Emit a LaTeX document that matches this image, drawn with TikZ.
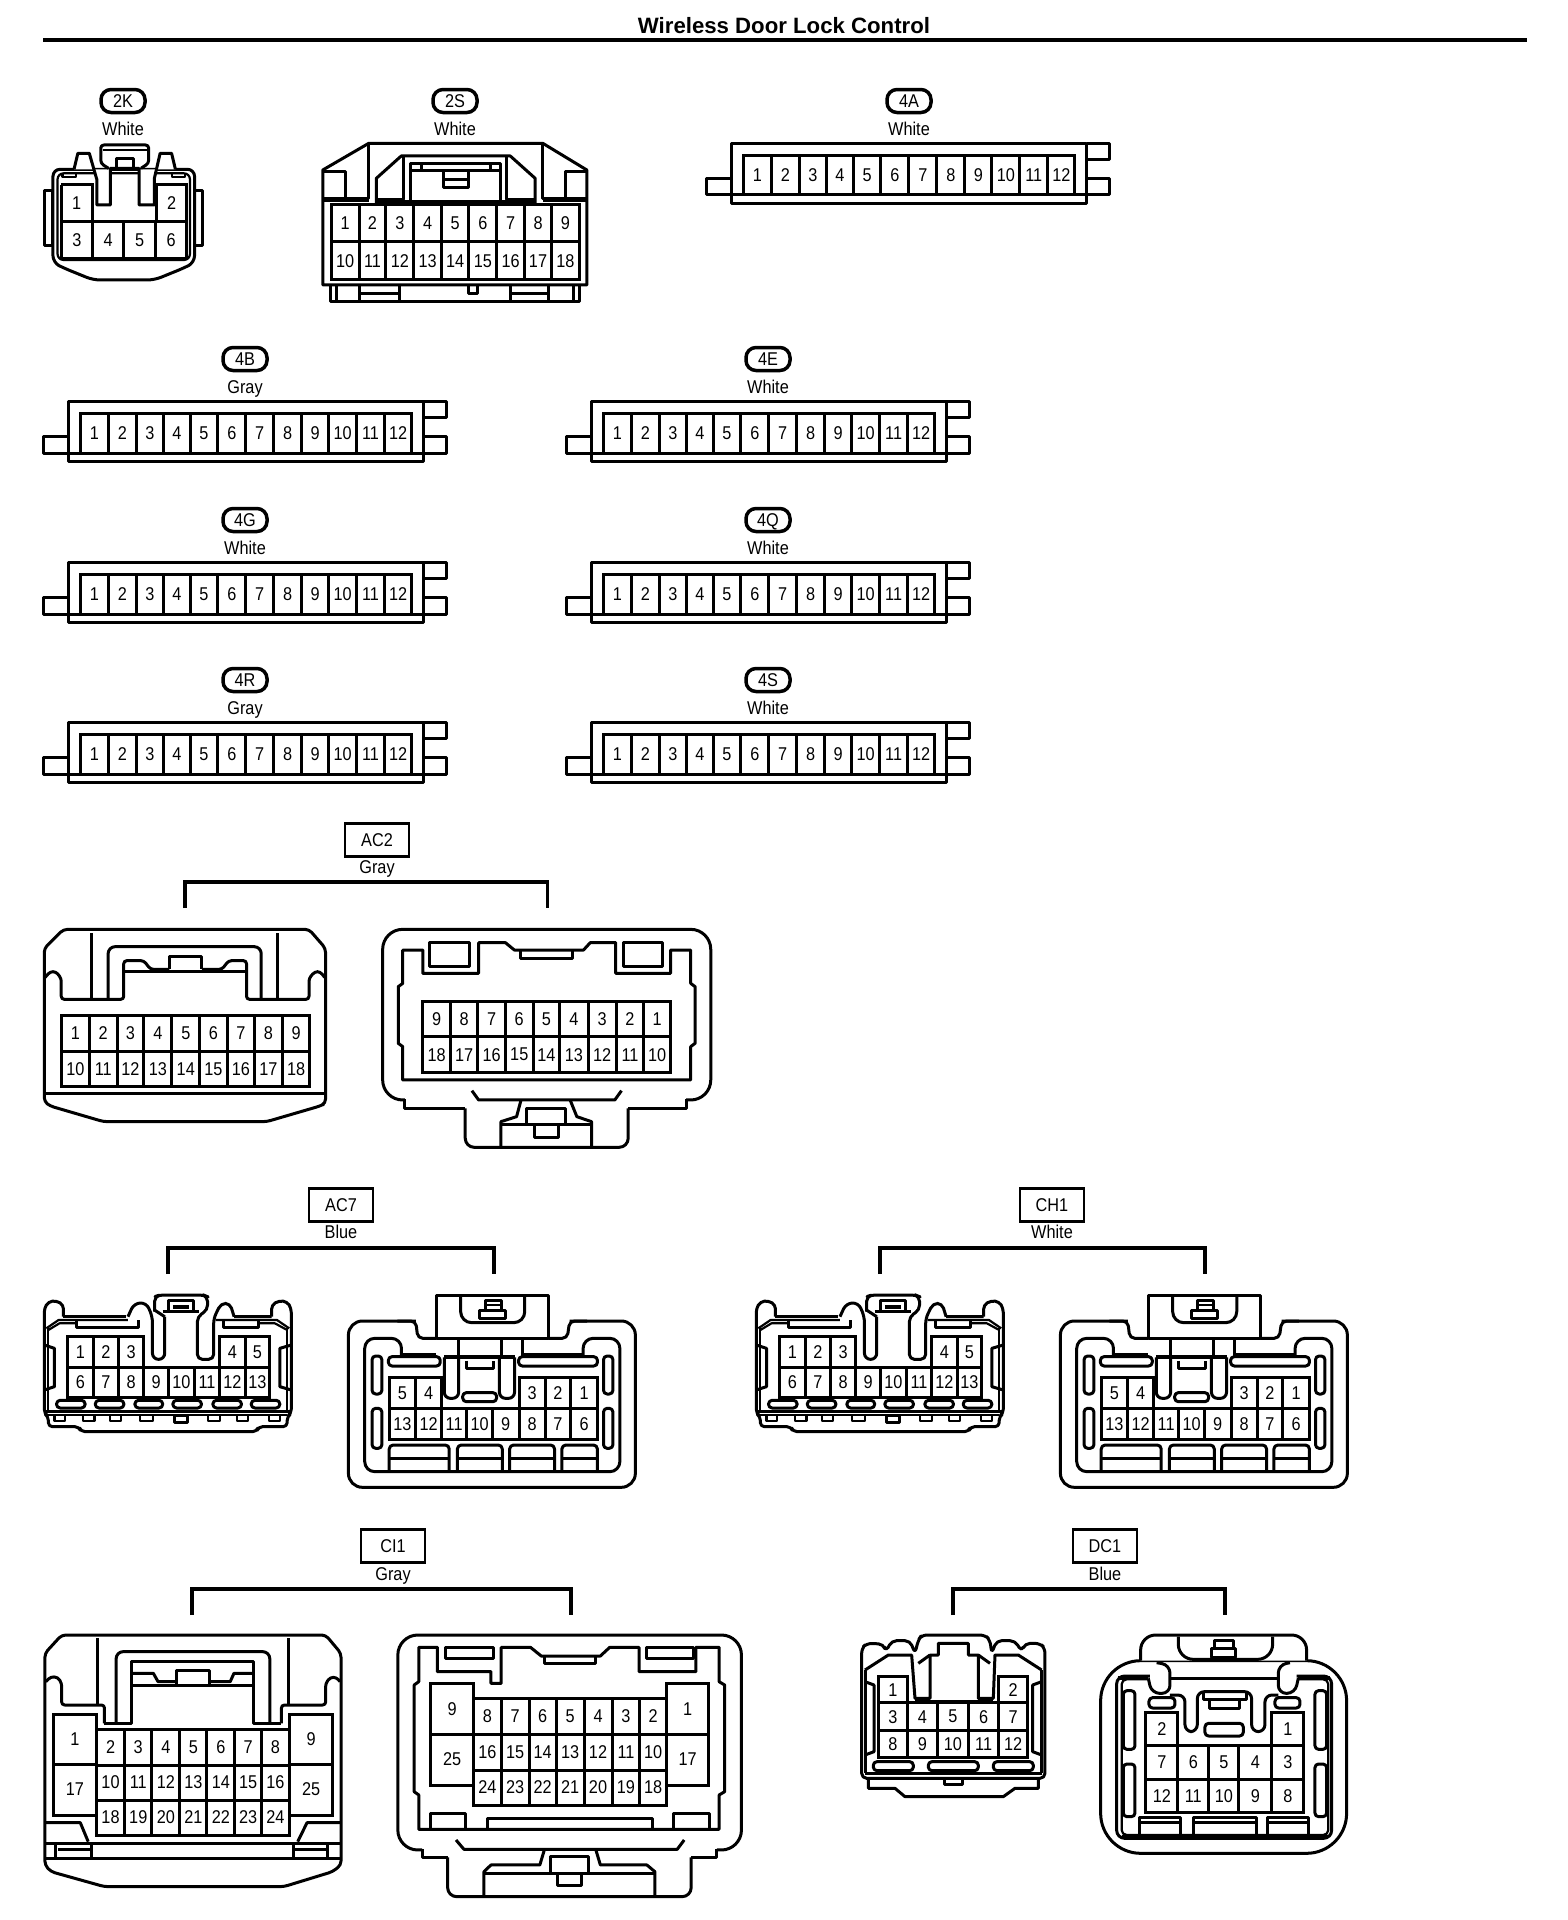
\documentclass[tikz,border=0pt]{standalone}
\usepackage{fontspec}
\setmainfont{Liberation Sans}
\newfontfamily\pinf[FakeStretch=0.88]{Liberation Sans}
\tikzset{
 ln/.style={line width=3pt,line join=round,draw=black},
 tn/.style={line width=2.2pt,line join=round,draw=black},
 pinbox/.style={line width=3pt,draw=black},
 pinlab/.style={font=\pinf\fontsize{18.5}{18.5}\selectfont,inner sep=0pt,text=black},
 colour/.style={font=\pinf\fontsize{18.5}{18.5}\selectfont,inner sep=0pt,text=black,text height=13pt,text depth=0pt},
 tagr/.style={draw=black,line width=3.5pt,rounded corners=10pt,minimum width=44pt,minimum height=23pt,inner sep=0pt,text height=13pt,text depth=0pt,font=\pinf\fontsize{18.5}{18.5}\selectfont},
 tagb/.style={draw=black,line width=2.4pt,minimum width=64pt,minimum height=33pt,inner sep=0pt,text height=13pt,text depth=0pt,font=\pinf\fontsize{18.5}{18.5}\selectfont},
 brk/.style={line width=3.4pt,draw=black},
 za/.style={x=0.3827pt,y=-0.3333pt},
 zb/.style={x=0.4464pt,y=-0.3333pt},
 zc/.style={x=0.4082pt,y=-0.3333pt},
 zd/.style={x=0.4656pt,y=-0.3333pt},
 ze/.style={x=0.3333pt,y=-0.3333pt},
}
\newcommand{\prow}[4]{\def\xs{{#3}}\foreach \l [count=\i from 0] in {#4}{%
 \pgfmathsetmacro\xa{\xs[\i]}\pgfmathsetmacro\xb{\xs[\i+1]}%
 \draw[pinbox] (\xa,#1) rectangle (\xb,#2);
 \node[pinlab] (p\l) at ({(\xa+\xb)/2},{(#1+#2)/2}) {\l};}}
\newcommand{\pill}[4]{\draw[ln,rounded corners=3.6pt] (#1,#2) rectangle (#3,#4);}
\newcommand{\strip}[2]{\begin{scope}[shift={(#1,#2)},ze]
 \draw[ln] (125,70) rectangle (1190,250);
 \draw[ln] (125,225) -- (1190,225);
 \draw[ln] (125,175) -- (50,175) -- (50,225) -- (125,225);
 \draw[ln] (1190,70) -- (1260,70) -- (1260,118) -- (1190,118);
 \draw[ln] (1190,175) -- (1260,175) -- (1260,225) -- (1190,225);
 \prow{105}{225}{160,245,328,410,490,573,657,740,825,905,990,1073,1155}{1,2,3,4,5,6,7,8,9,10,11,12}
 \end{scope}}
\newcommand{\acseven}[2]{\begin{scope}[shift={(#1,#2)},zc]
 % left half
 \draw[ln,rounded corners=4pt] (82,140)--(82,105)--(65,92)--(45,95)--(35,115)--(35,430)--(45,440)--(45,470)--(120,470)--(125,485)--(555,485)--(560,470)--(630,470)--(630,440)--(640,430)--(640,115)--(630,95)--(610,92)--(592,105)--(592,140);
 \draw[ln] (82,140)--(235,140);
 \draw[ln,rounded corners=6pt] (240,140)--(255,100)--(285,98)--(300,140)--(300,268)--(330,268)--(330,140);
 \draw[ln,rounded corners=5pt] (305,125)--(305,80)--(318,75)--(425,75)--(435,80)--(435,120)--(410,140)--(410,268)--(450,268)--(450,145)--(468,100)--(490,100)--(500,140);
 \draw[ln] (305,120)--(330,140) (500,140)--(592,140);
 \draw[ln] (325,125)--(415,125) (340,125)--(340,92)--(400,92)--(400,125);
 \draw[line width=4pt] (350,112)--(390,112);
 \draw[tn] (40,175)--(70,150)--(240,150) (635,175)--(605,150)--(455,150);
 \draw[tn] (45,180)--(72,160)--(115,160) (630,180)--(600,160)--(560,160);
 \draw[ln] (115,150)--(115,172)--(265,172)--(265,150) (475,150)--(475,172)--(560,172)--(560,150);
 \draw[ln] (35,225)--(60,235)--(60,350)--(35,360) (640,225)--(612,235)--(612,350)--(640,360);
 \draw[tn] (45,175)--(45,425) (630,175)--(630,425);
 \draw[ln] (35,425)--(640,425);
 \draw[tn] (45,434)--(630,434);
 \prow{200}{292}{92,155,217,278}{1,2,3}
 \prow{200}{292}{465,527,587}{4,5}
 \prow{292}{382}{92,155,217,278,340,402,465,527,587}{6,7,8,9,10,11,12,13}
 \pill{65}{391}{135}{414}\pill{160}{391}{230}{414}\pill{257}{391}{325}{414}\pill{350}{391}{420}{414}\pill{448}{391}{518}{414}\pill{542}{391}{612}{414}
 \foreach \a/\b in {60/85,130/158,195/222,270/302,437/465,507/535,585/612}{\draw[tn] (\a,436)--(\a,452)--(\b,452)--(\b,436);}
 \draw[ln] (355,436) rectangle (385,458);
 % right half
 \draw[ln,rounded corners=14pt] (945,153)--(780,153)--(780,652)--(1483,652)--(1483,153)--(1322,153);
 \draw[ln,rounded corners=5pt] (995,205)--(950,205)--(945,153)--(900,153);
 \draw[ln,rounded corners=5pt] (1270,205)--(1316,205)--(1322,153)--(1365,153);
 \draw[ln] (995,205)--(995,75)--(1270,75)--(1270,205)--cycle;
 \draw[ln,rounded corners=10pt] (910,255)--(910,205)--(820,205)--(820,605)--(1445,605)--(1445,205)--(1355,205)--(1355,255);
 \draw[ln] (910,252)--(995,252) (1205,252)--(1355,252);
 \draw[ln,rounded corners=11pt] (1055,75)--(1055,158)--(1212,158)--(1212,75);
 \draw[ln] (1100,122) rectangle (1165,145);
 \draw[ln] (1115,122)--(1115,90)--(1155,90)--(1155,122);
 \draw[tn] (1115,106)--(1155,106);
 \draw[ln] (1050,205)--(1050,262) (1155,205)--(1155,262) (1207,205)--(1207,262);
 \draw[ln,rounded corners=6pt] (1015,262)--(1015,385)--(1050,385)--(1050,262);
 \draw[ln,rounded corners=6pt] (1150,262)--(1150,385)--(1187,385)--(1187,262);
 \draw[line width=4pt] (1015,262)--(1187,262);
 \draw[ln] (1070,272)--(1070,295)--(1135,295)--(1135,272);
 \pill{878}{260}{1005}{288}\pill{1197}{260}{1390}{288}\pill{1060}{368}{1143}{395}
 \pill{838}{258}{862}{372}\pill{838}{415}{862}{535}\pill{1405}{258}{1428}{372}\pill{1405}{415}{1428}{535}
 \prow{322}{415}{880,945,1008}{5,4}
 \prow{322}{415}{1198,1262,1325,1390}{3,2,1}
 \prow{415}{508}{880,945,1008,1070,1133,1198,1262,1325,1390}{13,12,11,10,9,8,7,6}
 \foreach \a/\b in {880/1027,1047/1157,1175/1285,1303/1390}{
  \draw[ln,rounded corners=4pt] (\a,603)--(\a,525)--(\b,525)--(\b,603);
  \draw[ln] (\a,565)--(\b,565);}
 \end{scope}}
\begin{document}
\begin{tikzpicture}[x=1pt,y=-1pt]
\useasboundingbox (0,0) rectangle (1568,1920);
\fill[white] (0,0) rectangle (1568,1920);
\node[font=\bfseries\fontsize{22.2}{22.2}\selectfont,inner sep=0pt] (title) at (784,26) {Wireless Door Lock Control};
\draw[line width=4.5pt] (43,40) -- (1527,40);
% callouts
\node[tagr] (t2k) at (123,101) {2K}; \node[colour] (c2k) at (123,129) {White};
\node[tagr] (t2s) at (455,101) {2S}; \node[colour] (c2s) at (455,129) {White};
\node[tagr] (t4a) at (909,101) {4A}; \node[colour] (c4a) at (909,129) {White};
\node[tagr] (t4b) at (245,359) {4B}; \node[colour] (c4b) at (245,387) {Gray};
\node[tagr] (t4e) at (768,359) {4E}; \node[colour] (c4e) at (768,387) {White};
\node[tagr] (t4g) at (245,520) {4G}; \node[colour] (c4g) at (245,548) {White};
\node[tagr] (t4q) at (768,520) {4Q}; \node[colour] (c4q) at (768,548) {White};
\node[tagr] (t4r) at (245,680) {4R}; \node[colour] (c4r) at (245,708) {Gray};
\node[tagr] (t4s) at (768,680) {4S}; \node[colour] (c4s) at (768,708) {White};
\node[tagb] (tac2) at (377,840) {AC2}; \node[colour] (cac2) at (377,867) {Gray};
\node[tagb] (tac7) at (341,1205) {AC7}; \node[colour] (cac7) at (341,1232) {Blue};
\node[tagb] (tch1) at (1052,1205) {CH1}; \node[colour] (cch1) at (1052,1232) {White};
\node[tagb] (tci1) at (393,1546) {CI1}; \node[colour] (cci1) at (393,1574) {Gray};
\node[tagb] (tdc1) at (1105,1546) {DC1}; \node[colour] (cdc1) at (1105,1574) {Blue};
% brackets
\draw[brk] (185,908) -- (185,882) -- (547.5,882) -- (547.5,908);
\draw[brk] (168,1274) -- (168,1248) -- (494,1248) -- (494,1274);
\draw[brk] (880,1274) -- (880,1248) -- (1205,1248) -- (1205,1274);
\draw[brk] (192,1615) -- (192,1589) -- (571,1589) -- (571,1615);
\draw[brk] (953,1615) -- (953,1589) -- (1225,1589) -- (1225,1615);
% strips
\strip{690}{120}
\strip{26.8}{378.5}\strip{549.8}{378.5}
\strip{26.8}{539}\strip{549.8}{539}
\strip{26.8}{699.5}\strip{549.8}{699.5}
% 2K and 2S
\begin{scope}[shift={(30,70)},za]
 \draw[ln] (38,362) rectangle (60,528);
 \draw[ln] (430,362) rectangle (452,528);
 \draw[ln,rounded corners=7pt,fill=white] (60,298)--(430,298)--(430,578)--(400,595)--(325,630)--(165,630)--(90,595)--(60,578)--cycle;
 \draw[tn,rounded corners=6pt] (72,310)--(418,310)--(418,570)--(72,570)--cycle;
 \draw[ln,fill=white] (115,298)--(125,250)--(155,250)--(175,330)--(175,405)--(210,405)--(210,295)--(285,295)--(285,405)--(325,405)--(325,325)--(340,250)--(370,250)--(380,298);
 \draw[ln,rounded corners=3pt] (205,295)--(185,280)--(185,225)--(310,225)--(310,280)--(290,295);
 \draw[tn] (190,240)--(305,240);
 \draw[ln] (225,295)--(225,265)--(270,265)--(270,295);
 \draw[tn] (85,310)--(85,322)--(120,322)--(120,310) (370,310)--(370,322)--(405,322)--(405,310);
 \draw[pinbox] (82,345)--(163,345)--(163,455);
 \draw[pinbox] (82,345)--(82,455);
 \draw[pinbox] (330,455)--(330,345)--(410,345)--(410,455);
 \node[pinlab] (p1a) at (122,398) {1}; \node[pinlab] (p2a) at (370,398) {2};
 \prow{455}{565}{82,163,245,328,410}{3,4,5,6}
 % 2S
 \draw[ln] (765,300)--(885,220)--(1340,220)--(1455,300)--(1455,645)--(765,645)--cycle;
 \draw[ln] (785,645)--(785,695)--(1435,695)--(1435,645);
 \draw[ln] (800,645)--(800,695) (1420,645)--(1420,695);
 \draw[ln] (860,648)--(860,692) (965,648)--(965,692) (860,670)--(965,670);
 \draw[ln] (1255,648)--(1255,692) (1355,648)--(1355,692) (1255,670)--(1355,670);
 \draw[ln] (1145,645)--(1145,670)--(1170,670)--(1170,645);
 \draw[ln] (765,305)--(825,305)--(825,385)--(765,385);
 \draw[ln] (1455,305)--(1400,305)--(1400,385)--(1455,385);
 \draw[ln] (885,225)--(885,385)--(825,385) (1340,225)--(1340,385)--(1400,385);
 \draw[ln] (905,400)--(905,325)--(970,258)--(1255,258)--(1320,325)--(1320,400);
 \draw[ln] (975,258)--(975,388)--(905,388) (1245,258)--(1245,388)--(1320,388);
 \draw[ln] (995,395)--(995,280)--(1230,280)--(1230,395);
 \draw[ln] (995,303)--(1230,303) (1022,280)--(1022,303) (1203,280)--(1203,303);
 \draw[ln] (1080,305)--(1080,352)--(1145,352)--(1145,305) (1080,330)--(1145,330);
 \draw[ln] (768,392)--(885,392) (905,395)--(1320,395) (1340,392)--(1452,392);
 \prow{403}{515}{787,860,930,1003,1075,1147,1220,1292,1363,1435}{1,2,3,4,5,6,7,8,9}
 \prow{515}{630}{787,860,930,1003,1075,1147,1220,1292,1363,1435}{10,11,12,13,14,15,16,17,18}
\end{scope}
% AC2
\begin{scope}[shift={(30,900)},zb]
 \draw[ln,rounded corners=4pt] (32,145)--(75,88)--(625,88)--(662,145)--(662,610)--(650,618)--(530,665)--(165,665)--(45,618)--(32,605)--cycle;
 \draw[ln] (32,580)--(662,580);
 \draw[ln] (138,100)--(138,298) (555,100)--(555,298);
 \draw[ln,rounded corners=3pt] (34,232)--(45,215)--(58,215)--(70,235)--(70,298)--(210,298)--(210,182)--(255,182)--(270,208)--(312,208);
 \draw[ln,rounded corners=3pt] (385,208)--(430,208)--(445,182)--(485,182)--(485,298)--(625,298)--(625,235)--(638,215)--(650,215)--(660,232);
 \draw[ln,rounded corners=7pt] (175,298)--(175,140)--(518,140)--(518,298);
 \draw[ln] (312,208)--(312,170)--(385,170)--(385,208);
 \draw[ln] (212,215)--(483,215);
 \prow{345}{455}{70,133,195,255,318,380,442,503,565,627}{1,2,3,4,5,6,7,8,9}
 \prow{455}{560}{70,133,195,255,318,380,442,503,565,627}{10,11,12,13,14,15,16,17,18}
 \draw[ln,rounded corners=20pt] (840,600)--(790,600)--(790,88)--(1525,88)--(1525,600)--(1470,600);
 \draw[ln] (840,598)--(840,625)--(975,625) (1470,598)--(1470,625)--(1340,625);
 \draw[ln,rounded corners=9pt] (975,625)--(975,742)--(1340,742)--(1340,625);
 \draw[ln] (835,150)--(880,150)--(880,220)--(1005,220)--(1005,128)--(1065,128)--(1085,150)--(1240,150)--(1255,128)--(1312,128)--(1312,220)--(1435,220)--(1435,150)--(1480,150)--(1480,250)--(1490,260)--(1490,430)--(1480,440)--(1480,540)--(835,540)--(835,440)--(825,430)--(825,260)--(835,250)--cycle;
 \draw[ln] (895,128) rectangle (985,200) (1330,128) rectangle (1418,200);
 \draw[ln] (1098,150)--(1098,175)--(1215,175)--(1215,150);
 \prow{305}{410}{880,942,1003,1065,1127,1187,1250,1313,1375,1435}{9,8,7,6,5,4,3,2,1}
 \prow{410}{518}{880,942,1003,1065,1127,1187,1250,1313,1375,1435}{18,17,16,15,14,13,12,11,10}
 \draw[ln] (990,572)--(1005,600)--(1310,600)--(1325,572);
 \draw[ln] (1100,600)--(1090,650)--(1055,665)--(1055,742) (1210,600)--(1225,650)--(1258,665)--(1258,742);
 \draw[ln] (1055,675)--(1258,675) (1113,675)--(1113,625)--(1200,625)--(1200,675);
 \draw[ln] (1130,675)--(1130,712)--(1185,712)--(1185,675);
\end{scope}
\acseven{30}{1270}
\acseven{742}{1270}
% CI1
\begin{scope}[shift={(30,1620)},zd]
 \draw[ln,rounded corners=4pt] (32,100)--(68,45)--(635,45)--(668,100)--(668,735)--(650,755)--(545,800)--(160,800)--(45,755)--(32,735)--cycle;
 \draw[ln] (145,55)--(145,255) (555,55)--(555,255);
 \draw[ln,rounded corners=3pt] (34,185)--(45,170)--(60,172)--(68,190)--(68,255)--(160,255)--(160,310);
 \draw[ln,rounded corners=3pt] (540,310)--(540,255)--(635,255)--(635,190)--(645,172)--(658,172)--(666,185);
 \draw[ln,rounded corners=7pt] (185,310)--(185,95)--(515,95)--(515,310);
 \draw[ln] (160,310)--(218,310)--(218,125)--(480,125)--(480,310)--(540,310);
 \draw[ln] (218,160)--(265,160)--(275,185)--(315,185) (385,185)--(430,185)--(438,160)--(480,160);
 \draw[ln] (315,195)--(315,150)--(385,150)--(385,195) (218,195)--(480,195);
 \prow{282}{432}{50,143}{1}\prow{432}{585}{50,143}{17}
 \prow{282}{432}{558,650}{9}\prow{432}{585}{558,650}{25}
 \prow{328}{435}{143,203,262,322,380,440,497,557}{2,3,4,5,6,7,8}
 \prow{435}{540}{143,203,262,322,380,440,497,557}{10,11,12,13,14,15,16}
 \prow{540}{645}{143,203,262,322,380,440,497,557}{18,19,20,21,22,23,24}
 \draw[ln] (32,608)--(108,608)--(125,665) (668,608)--(595,608)--(575,665);
 \draw[ln] (32,670)--(668,670) (32,715)--(668,715);
 \draw[ln] (55,670)--(55,715) (133,670)--(133,715) (60,690)--(133,690);
 \draw[ln] (565,670)--(565,715) (640,670)--(640,715) (565,690)--(640,690);
 % right
 \draw[ln,rounded corners=20pt] (842,690)--(790,690)--(790,45)--(1528,45)--(1528,690)--(1475,690);
 \draw[ln] (842,688)--(842,712)--(897,712) (1475,688)--(1475,712)--(1420,712);
 \draw[ln,rounded corners=9pt] (897,712)--(897,830)--(1420,830)--(1420,712);
 \draw[ln] (835,82)--(875,82)--(875,155)--(990,155)--(990,190)--(1012,190)--(1012,82)--(1075,82)--(1098,108)--(1225,108)--(1245,82)--(1308,82)--(1308,155)--(1430,155)--(1430,82)--(1480,82)--(1480,185)--(1492,195)--(1492,515)--(1480,525)--(1480,628)--(835,628)--(835,525)--(825,515)--(825,195)--(835,185)--cycle;
 \draw[ln] (893,82) rectangle (995,115) (1325,82) rectangle (1425,115);
 \draw[ln] (1105,108)--(1105,130)--(1215,130)--(1215,108);
 \prow{190}{342}{860,953}{9}\prow{342}{495}{860,953}{25}
 \prow{190}{342}{1367,1458}{1}\prow{342}{495}{1367,1458}{17}
 \prow{235}{342}{953,1012,1072,1130,1190,1250,1310,1367}{8,7,6,5,4,3,2}
 \prow{342}{450}{953,1012,1072,1130,1190,1250,1310,1367}{16,15,14,13,12,11,10}
 \prow{450}{555}{953,1012,1072,1130,1190,1250,1310,1367}{24,23,22,21,20,19,18}
 \draw[ln] (860,628)--(860,580)--(935,580)--(935,628) (982,628)--(982,595)--(1338,595)--(1338,628) (1383,628)--(1383,580)--(1460,580)--(1460,628);
 \draw[ln] (915,660)--(932,688)--(1390,688)--(1405,660);
 \draw[ln] (1105,688)--(1095,735)--(990,735)--(975,755)--(975,830) (1215,688)--(1225,735)--(1325,735)--(1342,755)--(1342,830);
 \draw[ln] (975,762)--(1342,762) (1118,762)--(1118,710)--(1200,710)--(1200,762);
 \draw[ln] (1133,762)--(1133,798)--(1185,798)--(1185,762);
\end{scope}
% DC1
\begin{scope}[shift={(850,1620)},ze]
 \draw[ln,rounded corners=5pt] (35,475)--(35,85)--(50,70)--(100,72)--(108,95)--(125,62)--(180,62)--(195,100)--(205,60)--(215,45)--(405,45)--(420,60)--(425,100)--(440,62)--(495,62)--(515,95)--(525,70)--(570,70)--(585,85)--(585,475)--cycle;
 \draw[ln] (55,478)--(55,505)--(135,505)--(165,530)--(460,530)--(495,505)--(565,505)--(565,478);
 \draw[ln] (45,150)--(115,105)--(185,105)--(195,235)--(240,235)--(240,105)--(265,105)--(265,70)--(355,70)--(355,105)--(385,105)--(385,235)--(430,235)--(435,105)--(505,105)--(575,150);
 \draw[ln] (240,105)--(205,130) (385,105)--(420,130);
 \draw[ln] (45,150)--(45,460) (575,150)--(575,460) (45,460)--(575,460);
 \draw[ln] (45,185)--(72,195)--(72,395)--(45,405) (575,185)--(548,195)--(548,395)--(575,405);
 \draw[ln] (195,243)--(430,243);
 \prow{170}{248}{85,172}{1}\prow{170}{248}{447,532}{2}
 \prow{248}{332}{85,172,262,355,447,532}{3,4,5,6,7}
 \prow{332}{412}{85,172,262,355,447,532}{8,9,10,11,12}
 \pill{70}{425}{190}{452}\pill{235}{425}{385}{452}\pill{430}{425}{550}{452}
 \draw[ln] (283,478)--(283,492)--(338,492)--(338,478);
 % right
 \draw[ln,rounded corners=40pt] (752,122) rectangle (1490,700);
 \draw[ln,rounded corners=15pt,fill=white] (872,122)--(872,45)--(1370,45)--(1370,122);
 \draw[ln,rounded corners=15pt] (985,50)--(985,118)--(1268,118)--(1268,50);
 \draw[ln] (1085,85) rectangle (1158,112) (1095,60) rectangle (1150,85);
 \draw[ln,rounded corners=8pt] (900,168)--(800,168)--(800,655)--(1445,655)--(1445,168)--(1340,168);
 \draw[tn,rounded corners=5pt] (895,178)--(815,178)--(815,645)--(1435,645)--(1435,178)--(1345,178);
 \draw[ln] (815,650)--(1435,650);
 \draw[line width=4pt] (805,173)--(895,173) (1345,173)--(1440,173);
 \draw[ln,rounded corners=8pt] (895,175)--(905,220)--(960,220)--(960,135)--(920,128);
 \draw[ln,rounded corners=8pt] (1345,175)--(1335,220)--(1285,220)--(1285,135)--(1320,128);
 \draw[ln] (960,175)--(1285,175);
 \draw[ln,rounded corners=7pt] (960,225)--(1005,225)--(1005,335)--(1042,335)--(1042,215)--(1205,215)--(1205,335)--(1245,335)--(1245,225)--(1285,225);
 \draw[ln] (1060,220)--(1060,238)--(1190,238)--(1190,220) (1080,238)--(1080,265)--(1170,265)--(1170,238);
 \pill{897}{233}{975}{264}\pill{1275}{233}{1350}{264}\pill{1065}{310}{1180}{348}
 \pill{820}{212}{855}{388}\pill{820}{432}{855}{590}\pill{1395}{212}{1430}{388}\pill{1395}{432}{1430}{590}
 \prow{277}{375}{888,983}{2}\prow{277}{375}{1265,1362}{1}
 \prow{375}{477}{888,983,1077,1167,1265,1362}{7,6,5,4,3}
 \prow{477}{578}{888,983,1077,1167,1265,1362}{12,11,10,9,8}
 \draw[ln] (870,645)--(870,592)--(992,592)--(992,645) (1030,645)--(1030,592)--(1220,592)--(1220,645) (1252,645)--(1252,592)--(1375,592)--(1375,645);
 \draw[ln] (870,606)--(992,606) (1030,606)--(1220,606) (1252,606)--(1375,606);
\end{scope}
\end{tikzpicture}
\end{document}
